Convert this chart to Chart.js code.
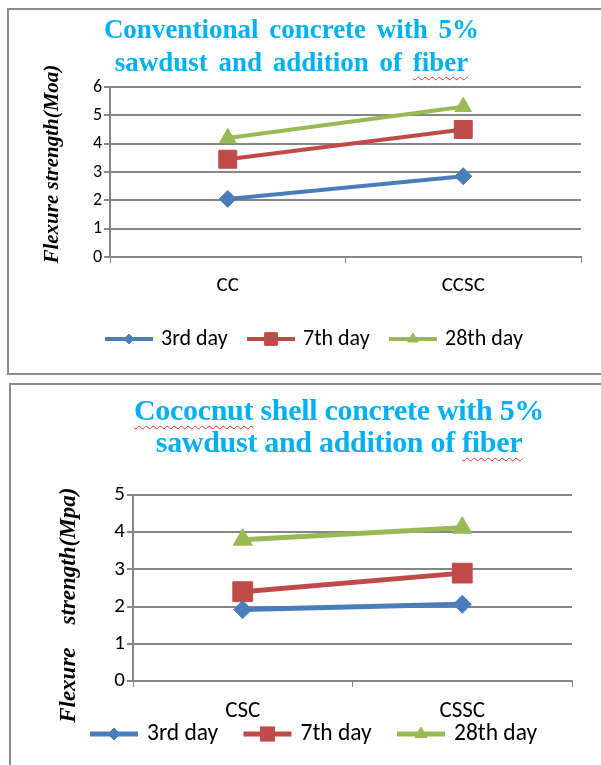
<!DOCTYPE html>
<html>
<head>
<meta charset="utf-8">
<script src="https://cdn.jsdelivr.net/npm/chart.js@4.4.0/dist/chart.umd.min.js"></script>
<style>
body{margin:0;background:#fff;width:601px;height:765px;overflow:hidden;position:relative}
.box{position:absolute;border:2px solid #8c8c8c}
#box1{left:7px;top:8px;width:640px;height:363px}
#box2{left:9px;top:383px;width:640px;height:420px}
canvas{position:absolute;left:0}
#c1{top:0}
#c2{top:375px}
.title{position:absolute;text-align:center;color:#00b0f0;font-family:"Liberation Serif","Times New Roman",serif;font-weight:bold;white-space:nowrap}
#t1{left:0;width:583px;top:13px;font-size:27px;line-height:33px;word-spacing:4px}
#t2{left:100px;width:478px;top:394px;font-size:30px;line-height:32px;letter-spacing:-0.3px}
.sq{text-decoration:underline wavy #e03030;text-decoration-thickness:1px;text-underline-offset:5px}
</style>
</head>
<body>
<div class="box" id="box1"></div>
<div class="box" id="box2"></div>
<canvas id="c1" width="601" height="375"></canvas>
<canvas id="c2" width="601" height="390"></canvas>
<div class="title" id="t1">Conventional concrete with 5%<br>sawdust and addition of <span class="sq">fiber</span></div>
<div class="title" id="t2"><span class="sq">Cococnut</span> shell concrete with 5%<br>sawdust and addition of <span class="sq">fiber</span></div>
<script>
// top chart
const catsTop=["CC","CCSC"];
const day3Top=[2.05,2.85];
const day7Top=[3.45,4.5];
const day28Top=[4.2,5.3];
const ticksTop=[0,1,2,3,4,5,6];

// bottom chart
const catsBottom=["CSC","CSSC"];
const day3Bottom=[1.92,2.06];
const day7Bottom=[2.4,2.9];
const day28Bottom=[3.8,4.12];
const ticksBottom=[0,1,2,3,4,5];

const seriesNames=["3rd day","7th day","28th day"];
const colors=["#4a7ebb","#be4b48","#98b954"];
const styles=["rectRot","rect","triangle"];

const sans="Carlito, Lato, sans-serif";
const grid="#868686";

const lineLegend={
id:"lineLegend",
afterDraw(chart,args,o){
const ctx=chart.ctx;
chart.data.datasets.forEach((ds,i)=>{
const x=o.x+i*o.step;
const y=o.y;
ctx.save();
ctx.strokeStyle=ds.borderColor;
ctx.lineWidth=o.lineWidth;
ctx.beginPath();
ctx.moveTo(x,y);
ctx.lineTo(x+o.len,y);
ctx.stroke();
ctx.fillStyle=ds.backgroundColor;
ctx.lineWidth=1;
Chart.helpers.drawPoint(ctx,{pointStyle:ds.pointStyle,radius:o.radius[i],rotation:0,borderWidth:1},x+o.len/2,y);
ctx.fillStyle="#000";
ctx.font=o.fontSize+"px "+sans;
ctx.textAlign="left";
ctx.textBaseline="middle";
ctx.fillText(ds.label,x+o.len+o.gap,y);
ctx.restore();
});
}
};

function makeChart(id,cats,values,cfg){
const datasets=values.map((v,i)=>({
label:seriesNames[i],
data:v,
borderColor:colors[i],
backgroundColor:colors[i],
borderWidth:cfg.lineWidth,
pointStyle:styles[i],
pointRadius:cfg.radius[i],
pointBorderWidth:1,
tension:0
}));
return new Chart(document.getElementById(id),{
type:"line",
data:{labels:cats,datasets},
plugins:[lineLegend],
options:{
responsive:false,
animation:false,
events:[],
layout:{padding:cfg.padding},
plugins:{
legend:{display:false},
title:{display:false},
tooltip:{enabled:false},
lineLegend:cfg.legend
},
scales:{
x:{
offset:true,
ticks:{color:"#000",font:{family:sans,size:cfg.xFont},padding:10},
grid:{drawOnChartArea:false,drawTicks:true,tickLength:6,color:grid,lineWidth:1,offset:true},
border:{color:grid,width:2},
afterFit:s=>{s.height=cfg.xHeight;}
},
y:{
min:0,
max:cfg.ticks[cfg.ticks.length-1],
afterBuildTicks:s=>{s.ticks=cfg.ticks.map(v=>({value:v}));},
ticks:{color:"#000",font:{family:sans,size:cfg.yFont},padding:2},
grid:{color:grid,lineWidth:2,tickLength:6},
border:{color:grid,width:2},
title:{
display:true,
text:cfg.yTitle,
color:"#000",
font:{family:"Liberation Serif, Times New Roman, serif",style:"italic",weight:"bold",size:cfg.yTitleSize},
padding:{top:cfg.yTitlePad,bottom:0}
},
afterFit:s=>{s.width=cfg.yWidth;}
}
}
}
});
}

makeChart("c1",catsTop,[day3Top,day7Top,day28Top],{
lineWidth:4,
radius:[8.5,12.7,9.5],
padding:{top:87,right:20,left:0,bottom:0},
xHeight:118,
yWidth:110,
xFont:21,
yFont:18,
ticks:ticksTop,
yTitle:"   Flexure strength(Moa)",
yTitleSize:21,
yTitlePad:40,
legend:{x:105,step:142,y:339,len:48,gap:8,lineWidth:4,radius:[5,9,6],fontSize:22}
});

makeChart("c2",catsBottom,[day3Bottom,day7Bottom,day28Bottom],{
lineWidth:5,
radius:[9,14,11],
padding:{top:120,right:29,left:0,bottom:0},
xHeight:84,
yWidth:133,
xFont:23,
yFont:21,
ticks:ticksBottom,
yTitle:"Flexure    strength(Mpa)      ",
yTitleSize:23,
yTitlePad:55,
legend:{x:90,step:153.5,y:359,len:48,gap:9,lineWidth:5,radius:[6,10,7],fontSize:23.5}
});
</script>
</body>
</html>
